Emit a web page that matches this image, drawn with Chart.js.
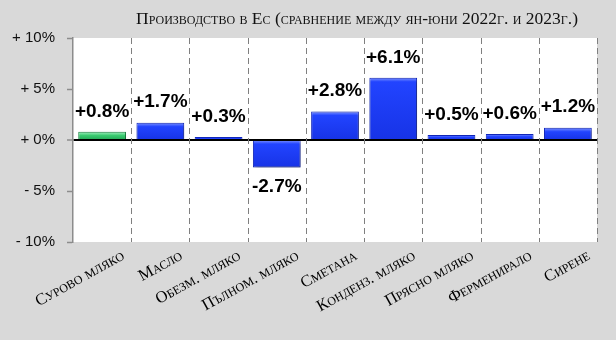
<!DOCTYPE html>
<html>
<head>
<meta charset="utf-8">
<script src="https://cdn.jsdelivr.net/npm/chart.js@4.4.0/dist/chart.umd.min.js"></script>
<style>
  html, body { margin: 0; padding: 0; background: #d9d9d9; }
  #wrap { width: 616px; height: 340px; position: relative; }
</style>
</head>
<body>
<div id="wrap"><canvas id="chart"></canvas></div>
<script>
// Data
const chartTitle = 'Производство в Ес (сравнение между ян-юни 2022г. и 2023г.)';
const categories = ['Сурово мляко', 'Масло', 'Обезм. мляко', 'Пълном. мляко', 'Сметана',
                    'Конденз. мляко', 'Прясно мляко', 'Ферменирало', 'Сирене'];
const changes = [0.8, 1.7, 0.3, -2.7, 2.8, 6.1, 0.5, 0.6, 1.2];
const yTicks = [-10, -5, 0, 5, 10];
const yTickLabels = ['- 10%', '- 5%', '+ 0%', '+ 5%', '+ 10%'];

// Helpers
function fmtChange(v) {
    return (v > 0 ? '+' : '') + v.toFixed(1) + '%';
}

function barFill(c) {
    const chart = c.chart;
    const ys = chart.scales.y;
    const plain = c.dataIndex === 0 ? '#35c66c' : '#1d3cf8';
    if (!ys || c.raw === undefined) return plain;
    const v = c.raw;
    const top = ys.getPixelForValue(Math.max(0, v));
    const bot = ys.getPixelForValue(Math.min(0, v));
    if (!isFinite(top) || !isFinite(bot)) return plain;
    const g = chart.ctx.createLinearGradient(0, top, 0, bot + 0.01);
    const band = Math.min(0.45, 4 / Math.max(1, bot - top));
    if (c.dataIndex === 0) {
        g.addColorStop(0, '#a6f0c2');
        g.addColorStop(band, '#3acb70');
        g.addColorStop(1, '#23a656');
    } else {
        g.addColorStop(0, '#8096ff');
        g.addColorStop(band, '#2244ff');
        g.addColorStop(1, '#1733e6');
    }
    return g;
}

// Plugins
const paintBg = {
    id: 'paintBg',
    beforeDraw(chart) {
        const { ctx, chartArea: a } = chart;
        ctx.save();
        ctx.fillStyle = '#ffffff';
        ctx.fillRect(a.left, a.top, a.right - a.left, a.bottom - a.top);
        // title
        ctx.fillStyle = '#111';
        ctx.font = "small-caps 17.5px 'Liberation Serif'";
        ctx.textAlign = 'center';
        ctx.textBaseline = 'middle';
        ctx.fillText(chartTitle, (a.left + a.right) / 2 + 22, 19);
        ctx.restore();
    }
};

const barShadow = {
    id: 'barShadow',
    beforeDatasetsDraw(chart) {
        const { ctx, chartArea: a } = chart;
        const xs = chart.scales.x;
        // dashed separators between categories
        ctx.save();
        ctx.strokeStyle = '#7f7f7f';
        ctx.lineWidth = 1;
        ctx.setLineDash([6, 4]);
        for (let i = 1; i <= categories.length; i++) {
            const x = Math.round(xs.getPixelForValue(i - 0.5)) + 0.5;
            ctx.beginPath();
            ctx.moveTo(x, a.top);
            ctx.lineTo(x, a.bottom);
            ctx.stroke();
        }
        ctx.restore();

        ctx.save();
        ctx.shadowColor = 'rgba(0,0,0,0.35)';
        ctx.shadowBlur = 4;
        ctx.shadowOffsetX = 2;
        ctx.shadowOffsetY = 2;
    },
    afterDatasetsDraw(chart) {
        const ctx = chart.ctx;
        ctx.restore();
        const meta = chart.getDatasetMeta(0);
        ctx.save();
        ctx.fillStyle = '#000';
        ctx.font = "bold 19px 'Liberation Sans'";
        ctx.textAlign = 'center';
        meta.data.forEach((bar, i) => {
            const v = changes[i];
            if (v >= 0) {
                ctx.textBaseline = 'bottom';
                ctx.fillText(fmtChange(v), bar.x, bar.y - 11);
            } else {
                ctx.textBaseline = 'top';
                ctx.fillText(fmtChange(v), bar.x, bar.y + 10);
            }
        });
        ctx.restore();
    }
};

const chart = new Chart(document.getElementById('chart'), {
    type: 'bar',
    data: {
        labels: categories,
        datasets: [{
            data: changes,
            backgroundColor: barFill,
            borderColor: (c) => c.dataIndex === 0 ? '#1c8a47' : '#1228c0',
            borderWidth: 1,
            barPercentage: 0.82,
            categoryPercentage: 1
        }]
    },
    options: {
        responsive: true,
        maintainAspectRatio: false,
        animation: false,
        layout: { padding: { top: 38, right: 19, left: 0, bottom: 0 } },
        plugins: {
            legend: { display: false },
            title: { display: false },
            tooltip: { enabled: false }
        },
        scales: {
            x: {
                afterFit: (s) => { s.height = 98; },
                border: { display: false },
                grid: { display: false, drawTicks: false },
                ticks: {
                    color: '#000',
                    font: { family: "'Liberation Serif'", size: 16.5, weight: 'small-caps' },
                    minRotation: 29,
                    maxRotation: 29,
                    autoSkip: false,
                    labelOffset: 21,
                    padding: 4
                }
            },
            y: {
                min: -10,
                max: 10,
                afterFit: (s) => { s.width = 73; },
                afterBuildTicks: (s) => { s.ticks = yTicks.map(v => ({ value: v })); },
                border: { display: true, color: '#8c8c8c', width: 1.5 },
                grid: {
                    color: (c) => c.tick && c.tick.value === 0 ? '#000' : 'rgba(0,0,0,0)',
                    lineWidth: (c) => c.tick && c.tick.value === 0 ? 2 : 1,
                    tickColor: '#8c8c8c',
                    tickLength: 6,
                    tickWidth: 1.5
                },
                ticks: {
                    color: '#111',
                    font: { family: "'Liberation Sans'", size: 15 },
                    padding: 12,
                    callback: (v) => yTickLabels[yTicks.indexOf(v)]
                }
            }
        }
    },
    plugins: [paintBg, barShadow]
});
</script>
</body>
</html>
